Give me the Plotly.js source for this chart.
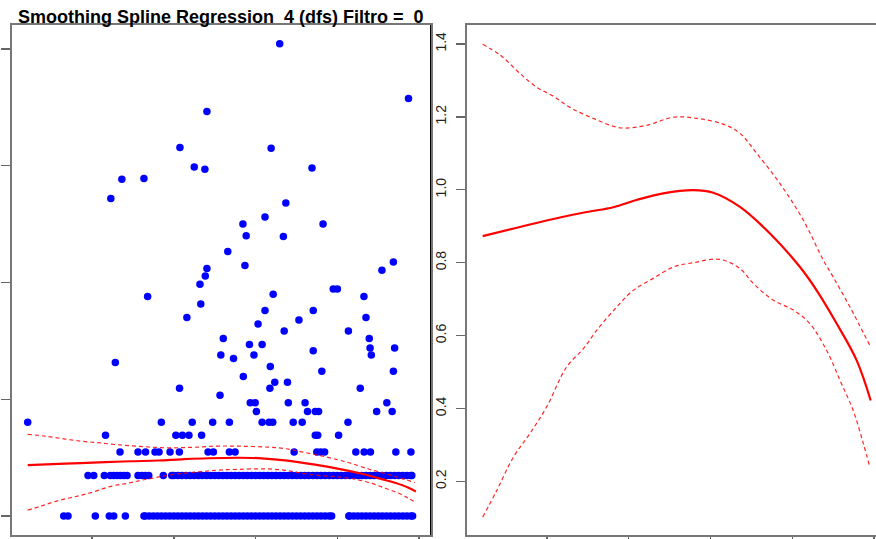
<!DOCTYPE html>
<html>
<head>
<meta charset="utf-8">
<script src="https://cdn.plot.ly/plotly-3.0.1.min.js"></script>
<style>html,body{margin:0;padding:0;background:#fff;}#chart{width:876px;height:539px;}</style>
</head>
<body>
<div id="chart"></div>
<script>
// ---- scattered points (x, log-scale y) ----
const scatterX = [65.9, 97.4, 48.1, 41.5, 63.8, 45.0, 47.6, 73.8, 27.3, 32.7, 24.6, 67.4, 56.9, 62.3, 76.5, 57.7, 66.8, 53.2, 48.1, 57.4, 93.7, 90.9, 47.7, 46.4, 33.6, 79.0, 80.0, 64.3, 86.5, 46.6, 43.2, 87.0, 62.3, 74.1, 60.6, 70.6, 67.0, 82.7, 52.1, 87.8, 51.5, 54.6, 58.5, 61.6, 59.6, 74.1, 88.0, 88.3, 94.0, 25.7, 63.6, 76.2, 93.7, 57.0, 64.7, 67.8, 41.4, 63.5, 85.6, 51.3, 58.7, 59.9, 68.0, 72.1, 92.1, 60.2, 72.7, 74.6, 75.4, 89.6, 93.4];
const scatterY = [8.09, 7.15, 6.93, 6.31, 6.30, 5.98, 5.94, 5.96, 5.77, 5.78, 5.44, 5.36, 5.00, 5.12, 5.00, 4.80, 4.79, 4.53, 4.24, 4.29, 4.35, 4.21, 4.11, 3.97, 3.76, 3.89, 3.89, 3.80, 3.76, 3.63, 3.40, 3.40, 3.52, 3.52, 3.29, 3.36, 3.17, 3.17, 3.04, 3.04, 2.76, 2.70, 2.94, 2.94, 2.76, 2.83, 2.88, 2.76, 2.88, 2.63, 2.56, 2.48, 2.48, 2.39, 2.29, 2.29, 2.19, 2.19, 2.19, 2.07, 1.94, 1.94, 1.94, 1.94, 1.94, 1.79, 1.79, 1.79, 1.79, 1.79, 1.79];

// ---- discrete rows of points ----
const rowLevels = [0, 0.693, 1.099, 1.386, 1.609];
const row1X = [13.08, 14.13, 20.81, 24.23, 25.31, 28.15, 32.7, 33, 34, 35, 36, 37, 38, 39, 40, 41, 42, 43, 44, 45, 46, 47, 48, 49, 50, 51, 52, 53, 54, 55, 56, 57, 58, 59, 60, 61, 62, 63, 64, 65, 66, 67, 68, 69, 70, 71, 72, 73, 74, 75, 76, 77, 78, 78.6, 82.8, 83, 84, 85, 86, 87, 88, 89, 90, 91, 92, 93, 94, 95, 96, 97, 98, 98.4];
const row2X = [19.02, 20.42, 23.01, 24.48, 25.31, 26.12, 26.92, 27.76, 28.56, 31.25, 32.23, 33.04, 33.87, 37.44, 39.5, 40, 41, 42, 43, 44, 45, 46, 47, 48, 49, 50, 51, 52, 53, 54, 55, 56, 57, 58, 59, 60, 61, 62, 63, 64, 65, 66, 67, 68, 69, 70, 71, 72, 73, 74, 75, 76, 77, 78, 79, 80, 81, 82, 83, 84, 85, 86, 87, 88, 89, 90, 91, 92, 93, 94, 95, 96, 97, 98, 98.2];
const row3X = [26.85, 31.25, 33.09, 35.41, 36.39, 39.08, 41.36, 48.38, 49.68, 53.59, 54.99, 69.42, 74.97, 75.90, 76.88, 84.51, 86.55, 88.09, 94.30, 97.99];
const row4X = [23.3, 40.5, 42.1, 43.7, 46.8, 74.6, 75.2, 80.3];
const row5X = [4.27, 36.95, 44.5, 49.5, 53.6, 61.6, 63.3, 64.2, 69.2, 71.4, 82.6];

// ---- smoothing spline fit and bands ----
const fitX = [4.27, 13.39, 23.18, 29.71, 36.22, 41.94, 48.45, 55.79, 60.69, 67.22, 74.56, 81.90, 85.98, 90.87, 95.77, 99.2];
const fitY = [0.873, 0.898, 0.924, 0.939, 0.952, 0.972, 0.990, 0.999, 0.992, 0.953, 0.880, 0.788, 0.724, 0.633, 0.532, 0.422];
const upperX = [4.27, 8.5, 13.4, 17.5, 21.5, 25.6, 31.3, 37.9, 44.4, 50.9, 56.6, 63.1, 67.2, 71.3, 77.0, 82.7, 87.6, 90.0, 94.1, 99.0];
const upperY = [1.399, 1.370, 1.319, 1.281, 1.257, 1.226, 1.196, 1.170, 1.177, 1.199, 1.196, 1.180, 1.155, 1.100, 1.017, 0.917, 0.807, 0.761, 0.679, 0.573];
const lowerX = [4.27, 7.7, 11.8, 15.8, 19.9, 24.8, 28.9, 32.2, 37.1, 41.1, 46.0, 50.9, 55.8, 62.3, 67.2, 70.5, 75.4, 80.3, 84.3, 88.4, 91.7, 94.9, 97.4, 99.0];
const lowerY = [0.102, 0.175, 0.267, 0.331, 0.404, 0.514, 0.564, 0.615, 0.679, 0.724, 0.757, 0.788, 0.800, 0.809, 0.784, 0.743, 0.697, 0.670, 0.633, 0.560, 0.477, 0.395, 0.304, 0.239];

// ---- ticks ----
const xTicks = [20, 40, 60, 80, 100];
const leftYTicks = [0, 2, 4, 6, 8];
const rightYTicks = [0.2, 0.4, 0.6, 0.8, 1.0, 1.2, 1.4];
const rightYLabels = ["0.2", "0.4", "0.6", "0.8", "1.0", "1.2", "1.4"];
const titleText = "<b>Smoothing Spline Regression\u00a0 4 (dfs) Filtro =\u00a0 0</b>";

// build combined point arrays
const rows = [row1X, row2X, row3X, row4X, row5X];
let ptsX = [], ptsY = [];
rows.forEach((r, i) => { r.forEach(v => { ptsX.push(v); ptsY.push(rowLevels[i]); }); });
scatterX.forEach((v, i) => { ptsX.push(v); ptsY.push(scatterY[i]); });

const W = 876, H = 539;
const px = v => v / W, py = v => (H - v) / H;

const dashStyle = {color: 'rgba(255,0,0,0.85)', width: 1.2, dash: '4px,3px', shape: 'spline', smoothing: 1.0};
const fitStyle = {color: '#FF0000', width: 2.2, shape: 'spline', smoothing: 1.0};

const traces = [
  {type: 'scatter', mode: 'markers', x: ptsX, y: ptsY, xaxis: 'x', yaxis: 'y',
   marker: {color: '#0000FF', size: 7.5, line: {width: 0}}, hoverinfo: 'skip'},
  {type: 'scatter', mode: 'lines', x: fitX, y: fitY, xaxis: 'x', yaxis: 'y', line: fitStyle},
  {type: 'scatter', mode: 'lines', x: upperX, y: upperY, xaxis: 'x', yaxis: 'y', line: dashStyle},
  {type: 'scatter', mode: 'lines', x: lowerX, y: lowerY, xaxis: 'x', yaxis: 'y', line: dashStyle},
  {type: 'scatter', mode: 'lines', x: fitX, y: fitY, xaxis: 'x2', yaxis: 'y2', line: fitStyle},
  {type: 'scatter', mode: 'lines', x: upperX, y: upperY, xaxis: 'x2', yaxis: 'y2', line: dashStyle},
  {type: 'scatter', mode: 'lines', x: lowerX, y: lowerY, xaxis: 'x2', yaxis: 'y2', line: dashStyle}
];

const axBase = {showgrid: false, zeroline: false, showline: true, linecolor: '#777', linewidth: 1.6,
  ticks: 'outside', ticklen: 9, tickcolor: '#666', tickwidth: 1.4};

const layout = {
  width: W, height: H,
  margin: {l: 0, r: 0, t: 0, b: 0},
  paper_bgcolor: '#fff', plot_bgcolor: '#fff',
  showlegend: false,
  font: {family: 'Liberation Sans, Arial, sans-serif', color: '#222'},
  xaxis: Object.assign({}, axBase, {domain: [px(12), px(431)], range: [0.43, 102.9], tickvals: xTicks, showticklabels: false, mirror: true, anchor: 'y'}),
  yaxis: Object.assign({}, axBase, {domain: [py(535), py(25)], range: [-0.324, 8.41], tickvals: leftYTicks, showticklabels: false, mirror: true, anchor: 'x'}),
  xaxis2: Object.assign({}, axBase, {domain: [px(467), 1], range: [0.43, 100.5], tickvals: xTicks, showticklabels: false, mirror: true, anchor: 'y2'}),
  yaxis2: Object.assign({}, axBase, {domain: [py(535), py(25)], range: [0.053, 1.452], tickvals: rightYTicks, ticktext: rightYLabels,
    tickangle: -90, ticklabelstandoff: 5, tickfont: {size: 14, color: '#222', family: 'Liberation Sans, Arial, sans-serif'}, anchor: 'x2', mirror: false}),
  shapes: [
    {type: 'line', xref: 'paper', yref: 'paper', x0: px(430.5), x1: px(430.5), y0: py(535), y1: py(25), line: {color: '#000', width: 1}}
  ],
  annotations: [
    {xref: 'paper', yref: 'paper', x: px(221), y: py(17.5), xanchor: 'center', yanchor: 'middle', showarrow: false,
     text: titleText, font: {size: 18, color: '#000', family: 'Liberation Sans, Arial, sans-serif'}}
  ]
};

Plotly.newPlot('chart', traces, layout, {staticPlot: true, displayModeBar: false});
</script>
</body>
</html>
